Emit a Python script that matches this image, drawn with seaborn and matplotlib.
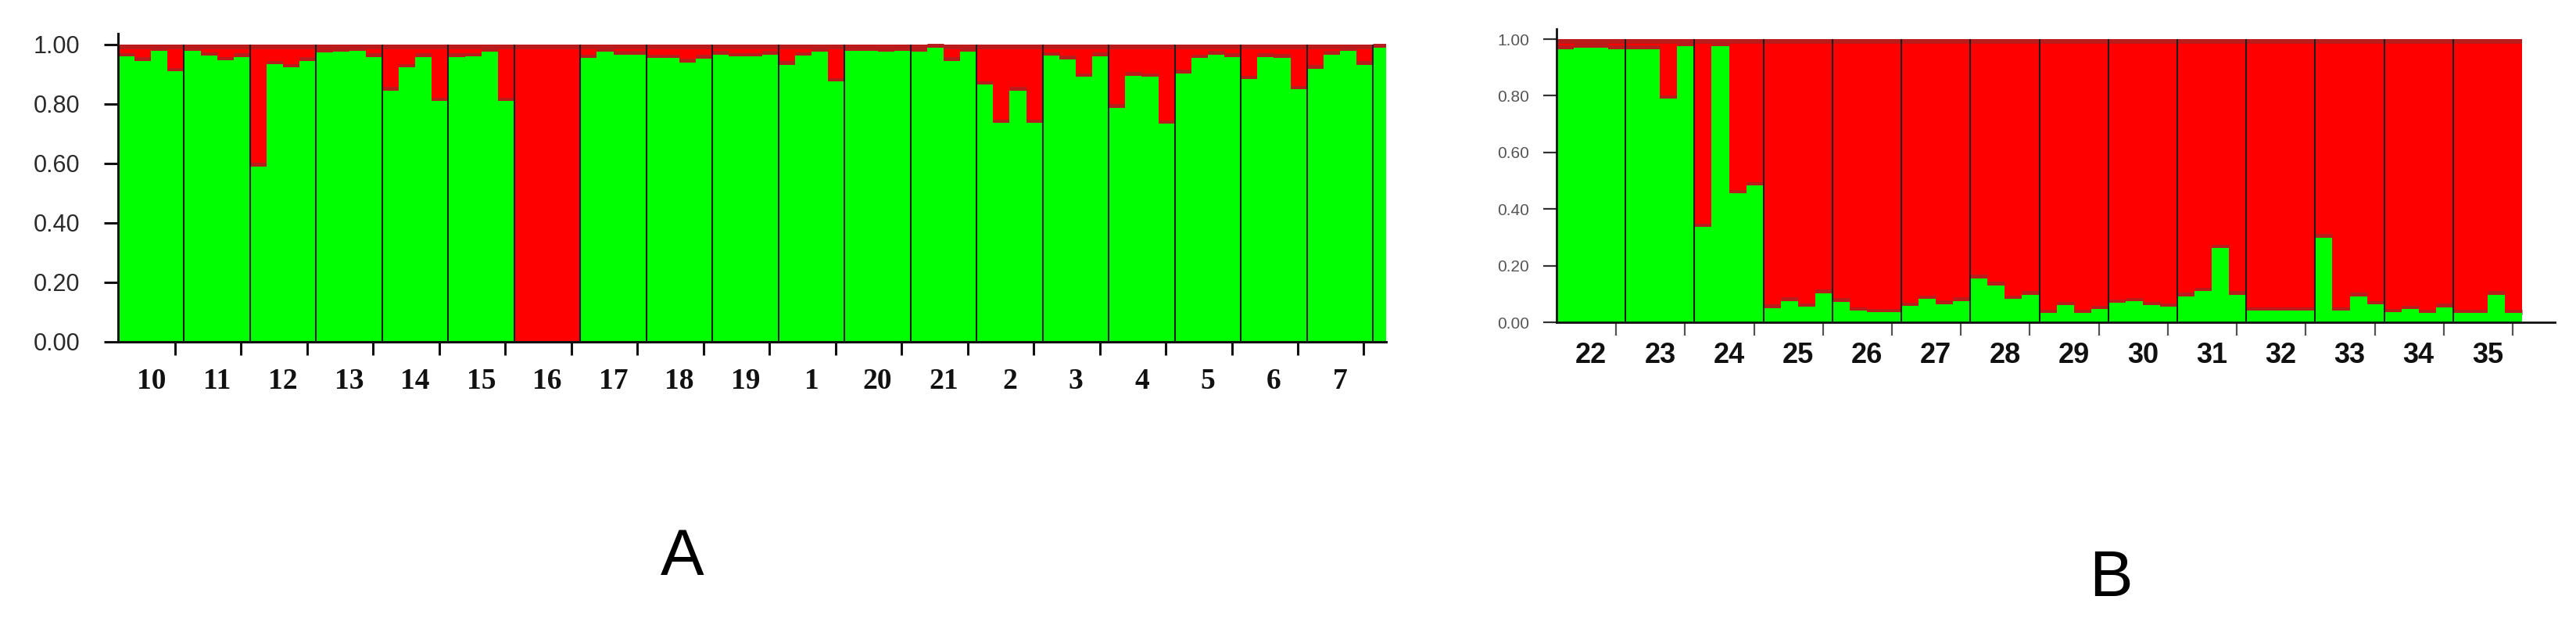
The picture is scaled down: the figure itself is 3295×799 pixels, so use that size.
import matplotlib
matplotlib.use('Agg')
import pandas as pd
import matplotlib.pyplot as plt
import seaborn as sns

sns.set_style('ticks')
plt.rcParams['font.family'] = ['Liberation Sans', 'DejaVu Sans']

# 面板A：群体标签与绿色类群的成员比例（每群4个个体）
groups_a = ['10', '11', '12', '13', '14', '15', '16', '17', '18', '19',
            '1', '20', '21', '2', '3', '4', '5', '6', '7']
green_a = [
    [0.960, 0.945, 0.980, 0.910],
    [0.980, 0.963, 0.947, 0.958],
    [0.590, 0.934, 0.923, 0.945],
    [0.973, 0.976, 0.980, 0.958],
    [0.845, 0.923, 0.958, 0.810],
    [0.958, 0.960, 0.975, 0.810],
    [0.000, 0.000, 0.000, 0.000],
    [0.954, 0.975, 0.967, 0.967],
    [0.955, 0.955, 0.940, 0.953],
    [0.967, 0.960, 0.960, 0.967],
    [0.932, 0.963, 0.976, 0.875],
    [0.980, 0.978, 0.975, 0.980],
    [0.975, 0.990, 0.945, 0.975],
    [0.865, 0.736, 0.845, 0.736],
    [0.963, 0.950, 0.891, 0.961],
    [0.788, 0.895, 0.891, 0.734],
    [0.903, 0.954, 0.967, 0.958],
    [0.884, 0.958, 0.956, 0.849],
    [0.919, 0.967, 0.980, 0.932],
]
tail_a = [0.99]  # 右侧被裁掉的个体

# 面板B
groups_b = ['22', '23', '24', '25', '26', '27', '28', '29', '30', '31',
            '32', '33', '34', '35']
green_b = [
    [0.965, 0.970, 0.970, 0.965],
    [0.965, 0.965, 0.790, 0.975],
    [0.336, 0.975, 0.455, 0.483],
    [0.050, 0.075, 0.055, 0.103],
    [0.072, 0.041, 0.035, 0.035],
    [0.057, 0.083, 0.064, 0.075],
    [0.155, 0.130, 0.083, 0.097],
    [0.032, 0.060, 0.032, 0.046],
    [0.069, 0.074, 0.060, 0.055],
    [0.092, 0.110, 0.262, 0.097],
    [0.041, 0.041, 0.041, 0.041],
    [0.299, 0.041, 0.092, 0.063],
    [0.035, 0.046, 0.032, 0.053],
    [0.032, 0.032, 0.097, 0.032],
]

GREEN = '#00ff00'
RED = '#ff0000'
DARK = '#b81c1c'
W, H = 3295, 799


def structure_panel(ax, labels, values, tail=()):
    vals = [v for grp in values for v in grp] + list(tail)
    n = len(vals)
    k = len(values[0])
    df = pd.DataFrame({'ind': range(n), 'q': vals})
    df['one'] = 1.0
    sns.barplot(data=df, x='ind', y='one', color=RED, saturation=1, width=1,
                linewidth=0, errorbar=None, zorder=1, ax=ax)
    part = df[(df['q'] > 0) & (df['q'] < 0.995)]
    ax.hlines(part['q'] + 0.004, part['ind'] - 0.5, part['ind'] + 0.5,
              color=DARK, lw=5, zorder=1.5)
    ax.hlines(0.993, -0.5, n - 0.5, color=DARK, lw=4, zorder=1.5)
    sns.barplot(data=df, x='ind', y='q', color=GREEN, saturation=1, width=1,
                linewidth=0, errorbar=None, zorder=1.6, ax=ax)
    seps = [k * (i + 1) - 0.5 for i in range(len(values)) if k * (i + 1) - 0.5 < n - 0.5]
    ax.vlines(seps, 0, 1, color='#1e1e1e', lw=1.5, zorder=3)
    centers = [k * i + (k - 1) / 2 for i in range(len(values))]
    ax.set_xticks(centers)
    ax.set_xticklabels(labels)
    ax.set_xticks([k * (i + 1) - 0.5 - 0.55 for i in range(len(values))], minor=True)
    ax.set_yticks([0, 0.2, 0.4, 0.6, 0.8, 1.0])
    ax.set_yticklabels(['0.00', '0.20', '0.40', '0.60', '0.80', '1.00'])
    ax.set_xlabel('')
    ax.set_ylabel('')
    for s in ['top', 'right']:
        ax.spines[s].set_visible(False)
    return n


fig = plt.figure(figsize=(W / 100, H / 100), dpi=100)

# A
ax_a = fig.add_axes([151 / W, (H - 437) / H, (1773 - 151) / W, (437 - 43) / H])
n_a = structure_panel(ax_a, groups_a, green_a, tail_a)
ax_a.set_xlim(-0.5, n_a - 1 + 0.3)
ax_a.set_ylim(0, 394 / 380)
for s in ['left', 'bottom']:
    ax_a.spines[s].set_linewidth(2.2)
    ax_a.spines[s].set_color('#111111')
ax_a.tick_params(axis='x', which='major', length=0, pad=24)
ax_a.tick_params(axis='x', which='minor', length=12, width=2.2, color='#111111')
ax_a.tick_params(axis='y', length=13, width=2.2, color='#111111', pad=22,
                 labelsize=22, labelcolor='#2a2a2a')
for t in ax_a.get_xticklabels():
    t.set_fontfamily('Liberation Serif')
    t.set_fontweight('bold')
    t.set_fontsize(27)
    t.set_color('#111111')

# B
ax_b = fig.add_axes([1991 / W, (H - 412) / H, (3268 - 1991) / W, (412 - 37) / H])
n_b = structure_panel(ax_b, groups_b, green_b)
ax_b.set_xlim(-0.5, n_b - 0.5 + 1.9)
ax_b.set_ylim(0, 375 / 362)
for s in ['left', 'bottom']:
    ax_b.spines[s].set_linewidth(2)
    ax_b.spines[s].set_color('#111111')
ax_b.tick_params(axis='x', which='major', length=0, pad=18)
ax_b.tick_params(axis='x', which='minor', length=12, width=1.6, color='#555555')
ax_b.tick_params(axis='y', length=12, width=1.6, color='#333333', pad=13,
                 labelsize=15, labelcolor='#555555')
for t in ax_b.get_xticklabels():
    t.set_fontweight('bold')
    t.set_fontsize(26)
    t.set_color('#111111')

fig.text(873 / W, 1 - 713 / H, 'A', fontsize=60, ha='center', va='center', color='black')
fig.text(2700 / W, 1 - 740 / H, 'B', fontsize=60, ha='center', va='center', color='black')

fig.savefig('out.png', dpi=100, facecolor='white')
